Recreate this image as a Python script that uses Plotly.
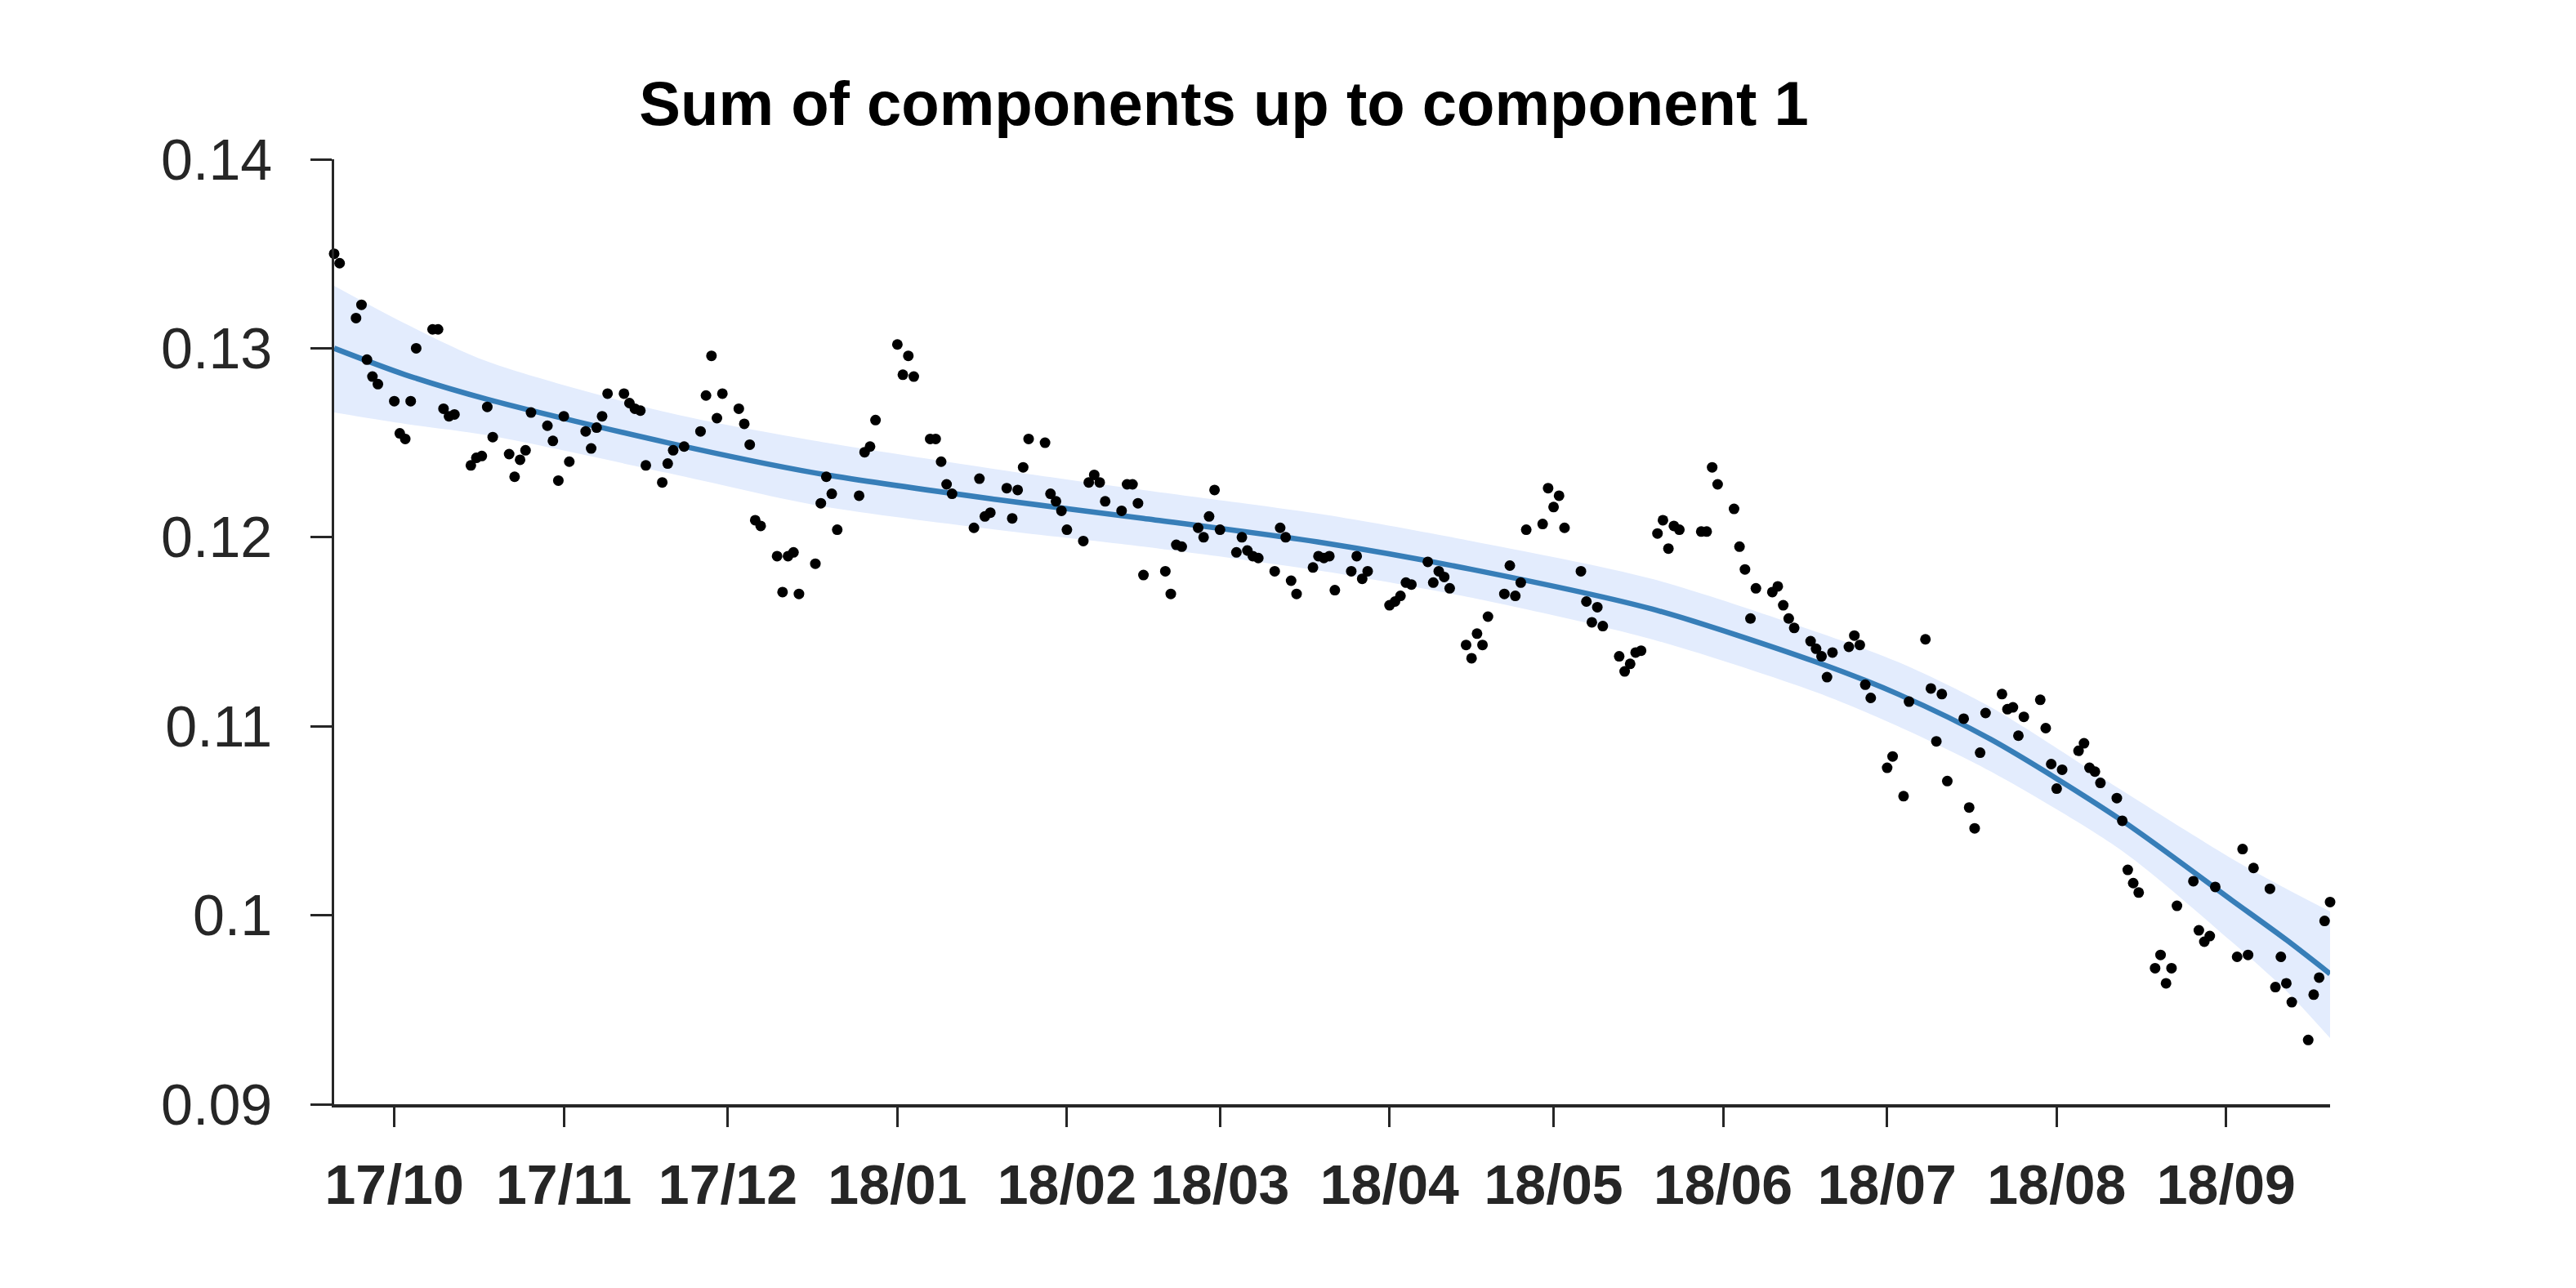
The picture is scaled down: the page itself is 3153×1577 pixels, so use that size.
import pandas as pd
import plotly.graph_objects as go

# ---------------- data ----------------
# observation dates: US trading days, stamped one day earlier (Sun-Thu)
market_holidays = ['2017-11-23', '2017-12-25', '2018-01-01', '2018-01-15', '2018-02-19',
                   '2018-03-30', '2018-05-28', '2018-07-04', '2018-09-03']
trade_days = pd.bdate_range('2017-09-21', '2018-09-21', freq='C', holidays=market_holidays)
obs_dates = trade_days - pd.Timedelta(days=1)

obs_values = [
    0.1350, 0.1345,
    0.1316, 0.1323, 0.1294, 0.1285, 0.1281,
    0.1272, 0.1255, 0.1252, 0.1272, 0.1300,
    0.1310, 0.1310, 0.1268, 0.1264, 0.1265,
    0.1238, 0.1242, 0.1243, 0.1269, 0.1253,
    0.1244, 0.1232, 0.1241, 0.1246, 0.1266,
    0.1259, 0.1251, 0.1230, 0.1264, 0.1240,
    0.1256, 0.1247, 0.1258, 0.1264, 0.1276,
    0.1276, 0.1271, 0.1268, 0.1267, 0.1238,
    0.1229, 0.1239, 0.1246, 0.1248,
    0.1256, 0.1275, 0.1296, 0.1263, 0.1276,
    0.1268, 0.1260, 0.1249, 0.1209, 0.1206,
    0.1190, 0.1171, 0.1190, 0.1192, 0.1170,
    0.1186, 0.1218, 0.1232, 0.1223, 0.1204,
    0.1222, 0.1245, 0.1248, 0.1262,
    0.1302, 0.1286, 0.1296, 0.1285,
    0.1252, 0.1252, 0.1240, 0.1228, 0.1223,
    0.1205, 0.1231, 0.1211, 0.1213,
    0.1226, 0.1210, 0.1225, 0.1237, 0.1252,
    0.1250, 0.1223, 0.1219, 0.1214, 0.1204,
    0.1198, 0.1229, 0.1233, 0.1229, 0.1219,
    0.1214, 0.1228, 0.1228, 0.1218, 0.1180,
    0.1182, 0.1170, 0.1196, 0.1195,
    0.1205, 0.1200, 0.1211, 0.1225, 0.1204,
    0.1192, 0.1200, 0.1193, 0.1190, 0.1189,
    0.1182, 0.1205, 0.1200, 0.1177, 0.1170,
    0.1184, 0.1190, 0.1189, 0.1190, 0.1172,
    0.1182, 0.1190, 0.1178, 0.1182,
    0.1164, 0.1166, 0.1169, 0.1176, 0.1175,
    0.1187, 0.1176, 0.1182, 0.1179, 0.1173,
    0.1143, 0.1136, 0.1149, 0.1143, 0.1158,
    0.1170, 0.1185, 0.1169, 0.1176, 0.1204,
    0.1207, 0.1226, 0.1216, 0.1222, 0.1205,
    0.1182, 0.1166, 0.1155, 0.1163, 0.1153,
    0.1137, 0.1129, 0.1133, 0.1139, 0.1140,
    0.1202, 0.1209, 0.1194, 0.1206, 0.1204,
    0.1203, 0.1203, 0.1237, 0.1228,
    0.1215, 0.1195, 0.1183, 0.1157, 0.1173,
    0.1171, 0.1174, 0.1164, 0.1157, 0.1152,
    0.1145, 0.1141, 0.1137, 0.1126, 0.1139,
    0.1142, 0.1148, 0.1143, 0.1122, 0.1115,
    0.1078, 0.1084, 0.1063, 0.1113,
    0.1146, 0.1120, 0.1092, 0.1117, 0.1071,
    0.1104, 0.1057, 0.1046, 0.1086, 0.1107,
    0.1117, 0.1109, 0.1110, 0.1095, 0.1105,
    0.1114, 0.1099, 0.1080, 0.1067, 0.1077,
    0.1087, 0.1091, 0.1078, 0.1076, 0.1070,
    0.1062, 0.1050, 0.1024, 0.1017, 0.1012,
    0.0972, 0.0979, 0.0964, 0.0972, 0.1005,
    0.1018, 0.0992, 0.0986, 0.0989, 0.1015,
    0.0978, 0.1035, 0.0979, 0.1025,
    0.1014, 0.0962, 0.0978, 0.0964, 0.0954,
    0.0934, 0.0958, 0.0967, 0.0997, 0.1007,
]

# fitted component (sum up to component 1) and its uncertainty band
fit_dates = ['2017-09-20', '2017-10-03', '2017-10-18', '2017-11-20', '2017-12-17',
             '2018-01-19', '2018-02-15', '2018-03-20', '2018-04-16', '2018-05-19',
             '2018-06-18', '2018-07-03', '2018-07-20', '2018-08-13', '2018-09-02',
             '2018-09-12', '2018-09-20']
fit_mid = [0.1300, 0.1286, 0.1273, 0.1250, 0.1234, 0.1220, 0.1210, 0.1197, 0.1183,
           0.1162, 0.1134, 0.1117, 0.1093, 0.1050, 0.1008, 0.0987, 0.0969]
fit_hi = [0.1333, 0.1313, 0.1293, 0.1266, 0.1251, 0.1236, 0.1225, 0.1212, 0.1198,
          0.1178, 0.1150, 0.1134, 0.1110, 0.1066, 0.1030, 0.1014, 0.1002]
fit_lo = [0.1266, 0.1260, 0.1254, 0.1234, 0.1217, 0.1204, 0.1195, 0.1182, 0.1168,
          0.1146, 0.1118, 0.1100, 0.1076, 0.1034, 0.0986, 0.0960, 0.0935]

month_ticks = ['2017-10-01', '2017-11-01', '2017-12-01', '2018-01-01', '2018-02-01',
               '2018-03-01', '2018-04-01', '2018-05-01', '2018-06-01', '2018-07-01',
               '2018-08-01', '2018-09-01']
month_labels = ['17/10', '17/11', '17/12', '18/01', '18/02', '18/03', '18/04', '18/05',
                '18/06', '18/07', '18/08', '18/09']
y_ticks = [0.09, 0.10, 0.11, 0.12, 0.13, 0.14]
y_labels = ['0.09', '0.1', '0.11', '0.12', '0.13', '0.14']

assert len(obs_dates) == len(obs_values)

# ---------------- figure ----------------
FONT = 'Liberation Sans, Arial, Helvetica, sans-serif'
INK = '#262626'
BLUE = 'rgb(55,126,184)'
BAND = 'rgb(227,236,253)'

fig = go.Figure()
fig.add_trace(go.Scatter(x=fit_dates, y=fit_lo, mode='lines',
                         line=dict(width=0, color=BAND, shape='spline', smoothing=0.8),
                         hoverinfo='skip'))
fig.add_trace(go.Scatter(x=fit_dates, y=fit_hi, mode='lines', fill='tonexty',
                         fillcolor=BAND,
                         line=dict(width=0, color=BAND, shape='spline', smoothing=0.8),
                         hoverinfo='skip'))
fig.add_trace(go.Scatter(x=fit_dates, y=fit_mid, mode='lines',
                         line=dict(width=6.5, color=BLUE, shape='spline', smoothing=0.8)))
fig.add_trace(go.Scatter(x=obs_dates, y=obs_values, mode='markers',
                         marker=dict(size=13, color='black'), cliponaxis=False))

fig.update_layout(
    width=3153, height=1577,
    margin=dict(l=409, r=301, t=195, b=225),
    paper_bgcolor='white', plot_bgcolor='white',
    showlegend=False,
    font=dict(family=FONT, color=INK),
    title=dict(text='Sum of components up to component 1',
               font=dict(family=FONT, size=76, color='black', weight='bold'),
               x=1498 / 3153, xanchor='center', xref='container',
               y=1 - 126 / 1577, yanchor='middle', yref='container'),
)
fig.update_xaxes(
    type='date', range=['2017-09-20', '2018-09-20'],
    tickmode='array', tickvals=month_ticks, ticktext=month_labels,
    ticks='outside', ticklen=24, tickwidth=3, tickcolor=INK,
    showline=True, linewidth=4, linecolor=INK,
    showgrid=False, zeroline=False,
    tickfont=dict(family=FONT, size=68, color=INK, weight='bold'),
    ticklabelstandoff=12,
)
fig.update_yaxes(
    range=[0.09, 0.14],
    tickmode='array', tickvals=y_ticks, ticktext=y_labels,
    ticks='outside', ticklen=26, tickwidth=2.5, tickcolor=INK,
    showline=True, linewidth=2.5, linecolor=INK,
    showgrid=False, zeroline=False,
    tickfont=dict(family=FONT, size=70, color=INK),
    ticklabelstandoff=33,
)

fig.write_html('out.html')
